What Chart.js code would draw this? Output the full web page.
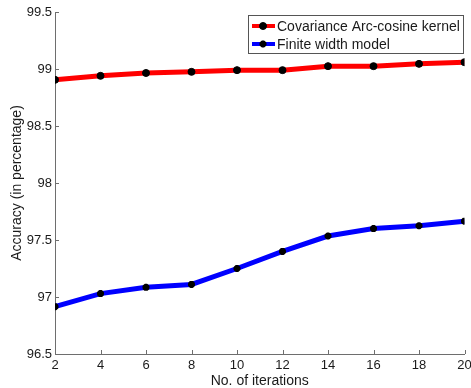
<!DOCTYPE html>
<html>
<head>
<meta charset="utf-8">
<script src="https://cdn.jsdelivr.net/npm/chart.js@4.4.0/dist/chart.umd.min.js"></script>
<style>
  html, body { margin: 0; padding: 0; background: #fff; }
  #wrap { width: 471px; height: 388px; }
</style>
</head>
<body>
<div id="wrap"><canvas id="chart-line" width="471" height="388"></canvas></div>
<script>
// values
const iterations = [2, 4, 6, 8, 10, 12, 14, 16, 18, 20];
const covarianceAcc = [98.905, 98.94, 98.965, 98.975, 98.99, 98.99, 99.025, 99.025, 99.045, 99.06];
const finiteAcc = [96.915, 97.03, 97.085, 97.11, 97.25, 97.40, 97.535, 97.60, 97.625, 97.665];
const seriesLabels = ["Covariance Arc-cosine kernel", "Finite width model"];
const xTicks = [2, 4, 6, 8, 10, 12, 14, 16, 18, 20];
const yTicks = [96.5, 97, 97.5, 98, 98.5, 99, 99.5];

const fontName = "'Liberation Sans', Arial, sans-serif";
const textColor = "#1a1a1a";
const axisColor = "#6e6e6e";

function toPoints(xs, ys) {
  return xs.map((x, i) => ({ x: x, y: ys[i] }));
}

// matlab style ticks pointing into the plot
const innerTicks = {
  id: "innerTicks",
  afterDraw(chart) {
    const ctx = chart.ctx;
    const xs = chart.scales.x;
    const ys = chart.scales.y;
    const area = chart.chartArea;
    ctx.save();
    ctx.strokeStyle = axisColor;
    ctx.lineWidth = 1;
    xTicks.forEach((v) => {
      const px = Math.round(xs.getPixelForValue(v)) + 0.5;
      ctx.beginPath();
      ctx.moveTo(px, area.bottom);
      ctx.lineTo(px, area.bottom - 4);
      ctx.stroke();
    });
    yTicks.forEach((v) => {
      const py = Math.round(ys.getPixelForValue(v)) + 0.5;
      ctx.beginPath();
      ctx.moveTo(area.left, py);
      ctx.lineTo(area.left + 4, py);
      ctx.stroke();
    });
    ctx.restore();
  },
};

// boxed legend with line + marker samples
const boxLegend = {
  id: "boxLegend",
  afterDraw(chart) {
    const ctx = chart.ctx;
    const bx = 248, by = 15, bw = 215, bh = 38;
    ctx.save();
    ctx.fillStyle = "#fff";
    ctx.fillRect(bx, by, bw, bh);
    ctx.strokeStyle = "#555";
    ctx.lineWidth = 1;
    ctx.strokeRect(bx + 0.5, by + 0.5, bw, bh);
    ctx.font = "14px " + fontName;
    ctx.textBaseline = "middle";
    chart.data.datasets.forEach((ds, i) => {
      const ly = by + 11 + i * 18;
      ctx.strokeStyle = ds.borderColor;
      ctx.lineWidth = 4;
      ctx.beginPath();
      ctx.moveTo(bx + 4, ly);
      ctx.lineTo(bx + 27, ly);
      ctx.stroke();
      ctx.fillStyle = "#000";
      ctx.strokeStyle = "#000";
      ctx.lineWidth = ds.pointBorderWidth;
      Chart.helpers.drawPoint(ctx, {
        pointStyle: ds.pointStyle,
        radius: ds.pointRadius,
        borderWidth: ds.pointBorderWidth,
      }, bx + 15, ly);
      ctx.fillStyle = textColor;
      ctx.fillText(ds.label, bx + 29, ly + 1);
    });
    ctx.restore();
  },
};

var ctx = document.getElementById("chart-line");
var myLineChart = new Chart(ctx, {
  type: "line",
  data: {
    datasets: [
      {
        label: seriesLabels[0],
        data: toPoints(iterations, covarianceAcc),
        borderColor: "#ff0000",
        borderWidth: 5,
        fill: false,
        pointStyle: "circle",
        pointRadius: 3.5,
        pointBackgroundColor: "#000",
        pointBorderColor: "#000",
        pointBorderWidth: 1,
      },
      {
        label: seriesLabels[1],
        data: toPoints(iterations, finiteAcc),
        borderColor: "#0000ff",
        borderWidth: 5,
        fill: false,
        pointStyle: "star",
        pointRadius: 3.5,
        pointBackgroundColor: "#000",
        pointBorderColor: "#000",
        pointBorderWidth: 2.5,
      },
    ],
  },
  options: {
    responsive: false,
    animation: false,
    layout: { padding: { top: 12, right: 6, left: 0, bottom: 0 } },
    plugins: {
      legend: { display: false },
      tooltip: { enabled: false },
    },
    scales: {
      x: {
        type: "linear",
        min: 2,
        max: 20,
        afterBuildTicks: (scale) => {
          scale.ticks = xTicks.map((v) => ({ value: v }));
        },
        afterFit: (scale) => {
          scale.height = 34;
          scale.paddingLeft = 0;
          scale.paddingRight = 0;
        },
        grid: { display: true, drawOnChartArea: false, drawTicks: false },
        border: { display: true, color: axisColor, width: 1 },
        ticks: {
          padding: 4,
          maxRotation: 0,
          autoSkip: false,
          color: textColor,
          font: { family: fontName, size: 13 },
          callback: (v) => String(v),
        },
        title: {
          display: true,
          text: "No. of iterations",
          color: textColor,
          font: { family: fontName, size: 14, lineHeight: 1 },
          padding: { top: 0, bottom: 0 },
        },
      },
      y: {
        min: 96.5,
        max: 99.5,
        afterBuildTicks: (scale) => {
          scale.ticks = yTicks.map((v) => ({ value: v }));
        },
        afterFit: (scale) => {
          scale.width = 55;
          scale.paddingTop = 0;
          scale.paddingBottom = 0;
        },
        grid: { display: true, drawOnChartArea: false, drawTicks: false },
        border: { display: true, color: axisColor, width: 1 },
        ticks: {
          padding: 3,
          autoSkip: false,
          color: textColor,
          font: { family: fontName, size: 13 },
          callback: (v) => String(v),
        },
        title: {
          display: true,
          text: "Accuracy (in percentage)",
          color: textColor,
          font: { family: fontName, size: 14, lineHeight: 1 },
          padding: { top: 10, bottom: 0 },
        },
      },
    },
  },
  plugins: [innerTicks, boxLegend],
});
</script>
</body>
</html>
